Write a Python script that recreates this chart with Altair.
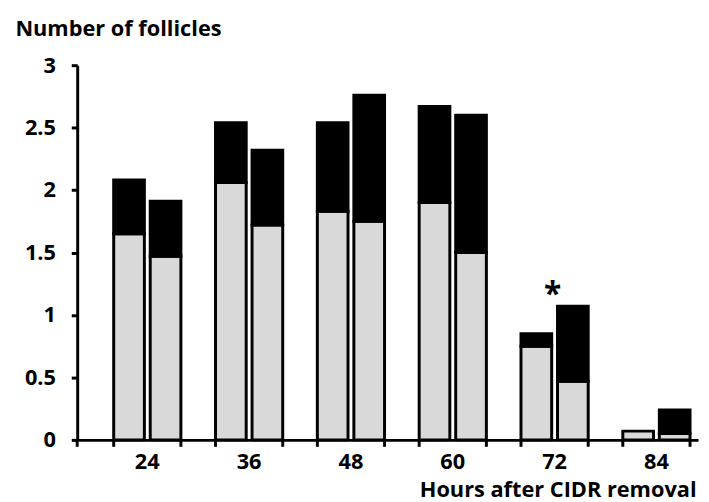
import altair as alt
import pandas as pd

hours = ["24", "36", "48", "60", "72", "84"]
g1_lower = [1.65, 2.06, 1.83, 1.90, 0.75, 0.07]
g1_total = [2.08, 2.54, 2.54, 2.67, 0.85, 0.07]
g2_lower = [1.47, 1.72, 1.75, 1.50, 0.47, 0.05]
g2_total = [1.91, 2.32, 2.76, 2.60, 1.07, 0.24]
y_ticks = [0, 0.5, 1, 1.5, 2, 2.5, 3]
star_hour = ["72"]
star_y = [1.08]

FONT = "Open Sans"
FS = 22

rows = []
for i, h in enumerate(hours):
    for grp, lo, tot in (("1", g1_lower[i], g1_total[i]), ("2", g2_lower[i], g2_total[i])):
        rows.append(dict(hour=h, grp=grp, part="lower", y0=0.0, y1=lo))
        if tot > lo:
            rows.append(dict(hour=h, grp=grp, part="upper", y0=lo, y1=tot))
df = pd.DataFrame(rows)
tick_df = pd.DataFrame({"hour": hours})
star_df = pd.DataFrame({"hour": star_hour, "y": star_y, "t": ["*"]})

W, H = 628, 379
xscale = alt.Scale(domain=hours, paddingInner=0.34, paddingOuter=0.2185, align=0.82)
yscale = alt.Scale(domain=[0, 3], nice=False)

bars = alt.Chart(df).mark_bar(stroke="black", strokeWidth=3, strokeJoin="miter").encode(
    x=alt.X("hour:N", scale=xscale, sort=hours, axis=alt.Axis(
        ticks=False, domainWidth=3, domainColor="black", labelPadding=12,
        labelFont=FONT, labelFontSize=FS, labelFontWeight="bold", labelColor="black",
        labelAngle=0, title="Hours after CIDR removal", titleX=626, titleY=57,
        titleAlign="right", titleBaseline="alphabetic", titleFont=FONT,
        titleFontSize=FS, titleFontWeight="bold", titleColor="black")),
    xOffset=alt.XOffset("grp:N", scale=alt.Scale(paddingInner=0.16, paddingOuter=0)),
    y=alt.Y("y1:Q", scale=yscale, axis=alt.Axis(
        values=y_ticks, format="~g", domainWidth=3, domainColor="black",
        tickWidth=3, tickSize=6, tickColor="black", labelFont=FONT,
        labelFontWeight="bold", labelFontSize=FS, labelColor="black",
        labelPadding=16, labelFlush=False, grid=False,
        title="Number of follicles", titleAngle=0, titleX=-63, titleY=-30,
        titleAlign="left", titleBaseline="alphabetic", titleFont=FONT,
        titleFontSize=FS, titleFontWeight="bold", titleColor="black")),
    y2="y0:Q",
    fill=alt.Fill("part:N", scale=alt.Scale(domain=["lower", "upper"], range=["#d9d9d9", "black"]), legend=None),
)

ticks_l = alt.Chart(tick_df).mark_rule(strokeWidth=3, color="black").encode(
    x=alt.X("hour:N", scale=xscale, sort=hours, bandPosition=0),
    y=alt.value(H), y2=alt.value(H + 7))
ticks_r = alt.Chart(tick_df).mark_rule(strokeWidth=3, color="black").encode(
    x=alt.X("hour:N", scale=xscale, sort=hours, bandPosition=1),
    y=alt.value(H), y2=alt.value(H + 7))
yext = alt.Chart(tick_df.head(1)).mark_rule(strokeWidth=3, color="black").encode(
    x=alt.value(0), y=alt.value(H), y2=alt.value(H + 7))

star = alt.Chart(star_df).mark_text(font=FONT, fontSize=32, fontWeight="bold",
                                    color="black", dx=-2, baseline="alphabetic").encode(
    x=alt.X("hour:N", scale=xscale, sort=hours),
    y=alt.Y("y:Q", scale=yscale),
    text="t:N")

chart = alt.layer(bars, ticks_l, ticks_r, yext, star).properties(
    width=W, height=H,
    padding={"left": 70, "top": 55, "right": 3, "bottom": 60},
    autosize=alt.AutoSizeParams(type="none"),
).configure_view(stroke=None)

chart.save("out.html", embed_options={"renderer": "svg", "actions": False})
